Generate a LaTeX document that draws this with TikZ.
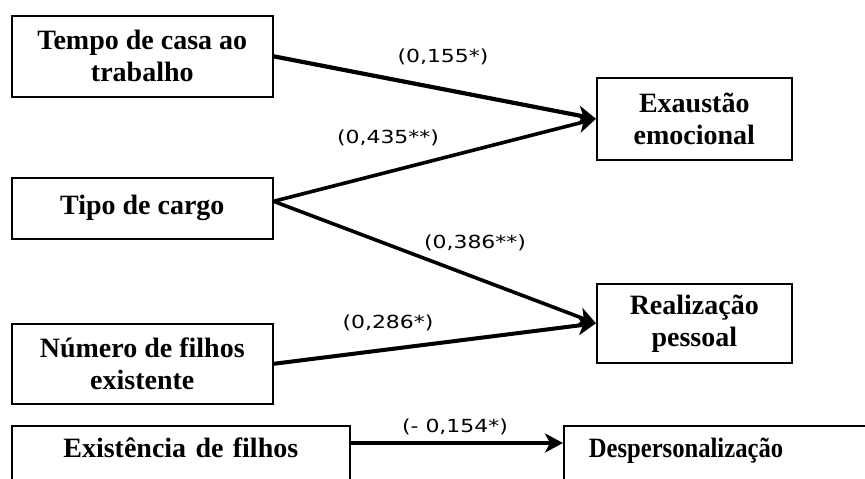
\documentclass[tikz,border=0pt]{standalone}
\usepackage{fontspec}
\usepackage{graphicx}
\setmainfont{Liberation Serif}
\newfontfamily\lblfont[FakeStretch=1.22]{DejaVu Sans}
\usetikzlibrary{arrows.meta}

\tikzset{
  varbox/.style={draw, line width=1.6pt, anchor=north west, inner sep=0pt,
    align=center, font=\fontsize{28}{32}\selectfont\bfseries},
  cutbox/.style={draw, line width=1.6pt, anchor=north west, inner xsep=0pt,
    inner ysep=0pt, text height=32pt, text depth=40pt,
    font=\fontsize{28}{32}\selectfont\bfseries},
  path arrow/.style={line width=3.6pt,
    -{Stealth[length=18pt, width=19pt, inset=5pt]}},
  coef/.style={font=\lblfont\fontsize{18}{20}\selectfont, inner sep=0pt}
}

\begin{document}
\begin{tikzpicture}[x=1pt, y=1pt]
  \useasboundingbox (0,0) rectangle (865,-479);
  \clip (0,0) rectangle (865,-479);

  % predictor boxes
  \node[varbox, minimum width=261, minimum height=81] (tempo) at (11,-15)
    {Tempo de casa ao\\trabalho};
  \node[varbox, minimum width=261, minimum height=61] (tipo) at (11,-177)
    {Tipo de cargo};
  \node[varbox, minimum width=261, minimum height=80] (numero) at (11,-323)
    {Número de filhos\\existente};
  \node[cutbox, text width=338pt, align=center] (exist) at (11,-425)
    {Existência de filhos};

  % outcome boxes
  \node[varbox, minimum width=195, minimum height=82] (exaust) at (596,-77)
    {Exaustão\\emocional};
  \node[varbox, minimum width=195, minimum height=79] (realiz) at (596,-283)
    {Realização\\pessoal};
  \node[cutbox, inner xsep=25pt, text width=300pt, align=left] (desp) at (563,-425)
    {\scalebox{0.88}[1]{Despersonalização}};

  % paths
  \draw[path arrow, line width=4.2pt] (tempo.east) -- (exaust.west);
  \draw[path arrow] ([yshift=7pt]tipo.east) -- (exaust.west);
  \draw[path arrow] ([yshift=7pt]tipo.east) -- (realiz.west);
  \draw[path arrow, line width=4pt] (numero.east) -- (realiz.west);
  \draw[path arrow] ([yshift=-18pt]exist.north east) -- ([yshift=-18pt]desp.north west);

  % path coefficients
  \node[coef] (c1) at (443,-57) {(0,155*)};
  \node[coef] (c2) at (388,-138) {(0,435**)};
  \node[coef] (c3) at (475,-243) {(0,386**)};
  \node[coef] (c4) at (388,-323) {(0,286*)};
  \node[coef] (c5) at (455,-427) {(- 0,154*)};
\end{tikzpicture}
\end{document}
